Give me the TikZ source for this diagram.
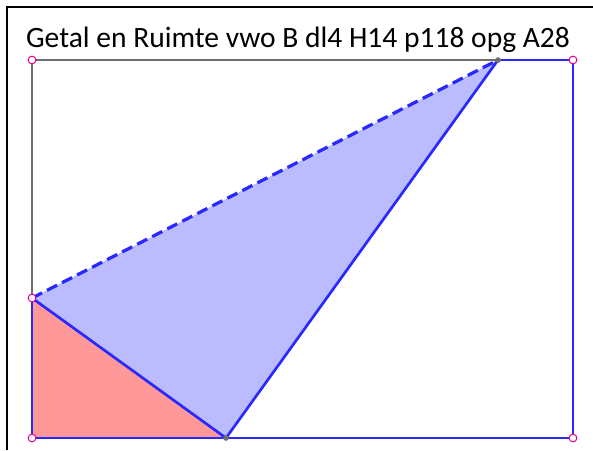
\documentclass[tikz,border=0pt]{standalone}
\usepackage{fontspec}
\setmainfont{Carlito}
\usepackage{tikz}
\usetikzlibrary{arrows.meta,positioning}
\usetikzlibrary{calc}
\usepackage{xcolor}

\definecolor{edgeblue}{RGB}{40,40,255}
\definecolor{fillblue}{RGB}{187,187,255}
\definecolor{fillred}{RGB}{255,153,153}
\definecolor{edgegray}{RGB}{110,110,110}

\begin{document}
\begin{tikzpicture}[
  x=0.025cm, y=-0.025cm,
  side/.style={edgeblue, line width=1.9pt},
  grayside/.style={edgegray, line width=1.7pt},
  freept/.style={circle, draw=magenta, fill=white, line width=0.7pt, inner sep=0pt, minimum size=5.5pt},
  fixpt/.style={circle, fill=edgegray, inner sep=0pt, minimum size=4pt}
]
\useasboundingbox (0,0) rectangle (593,450);

% ==================
% Frame and title
% ==================
\draw[line width=1.3pt] (7,450) -- (7,7) -- (593,7);
\node[font=\fontsize{21}{25}\selectfont] (title) at (298,40) {Getal en Ruimte vwo B dl4 H14 p118 opg A28};

% ==================
% Corner points
% ==================
\coordinate (A) at (32,438);
\coordinate (B) at (226,438);
\coordinate (C) at (573,438);
\coordinate (D) at (573,60);
\coordinate (E) at (498,60);
\coordinate (F) at (32,60);
\coordinate (G) at (32,298);

% ==================
% Triangles
% ==================
\fill[fillred] (A) -- (B) -- (G) -- cycle;
\fill[fillblue] (G) -- (B) -- (E) -- cycle;

% ==================
% Sides
% ==================
\draw[grayside] (E) -- (F) -- (G);
\draw[side] (G) -- (A) -- (B) -- (C) -- (D) -- (E);
\draw[side] (G) -- (B) -- (E);
\draw[side, line width=2.3pt, dash pattern=on 8pt off 4pt] (G) -- (E);

% ==================
% Points
% ==================
\node[freept] (pA) at (A) {};
\node[freept] (pC) at (C) {};
\node[freept] (pD) at (D) {};
\node[freept] (pF) at (F) {};
\node[freept] (pG) at (G) {};
\node[fixpt] (pB) at (B) {};
\node[fixpt] (pE) at (E) {};
\end{tikzpicture}
\end{document}
